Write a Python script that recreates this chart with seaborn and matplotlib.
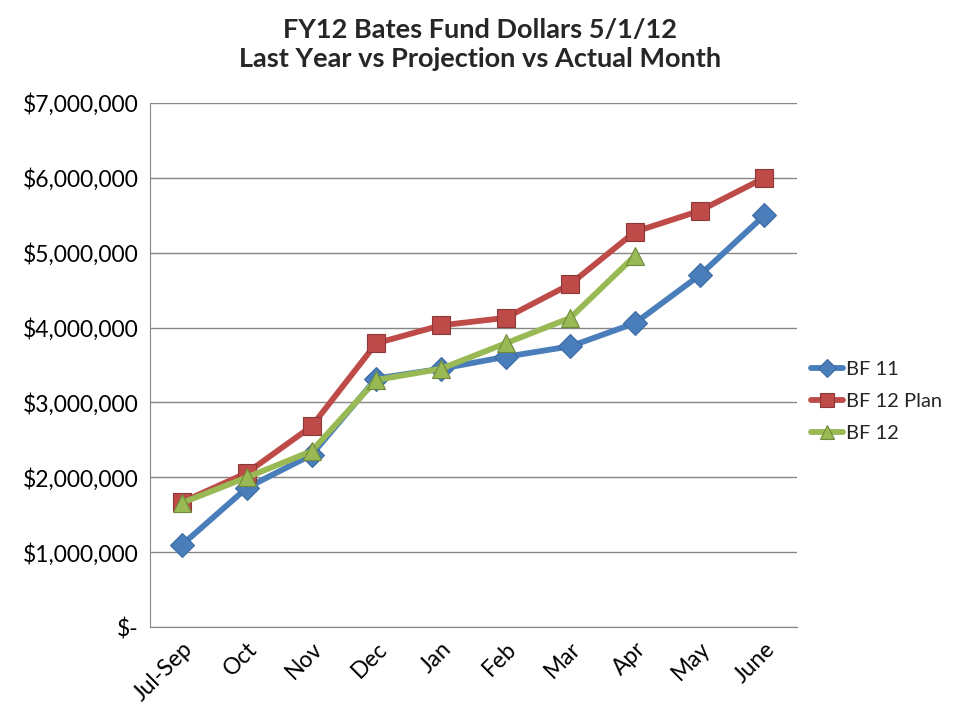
import pandas as pd
import numpy as np
import matplotlib.pyplot as plt
import seaborn as sns
from matplotlib.ticker import FuncFormatter

sns.set_style("white")
plt.rcParams['font.family'] = ['Lato', 'DejaVu Sans']

# data
months = ['Jul-Sep', 'Oct', 'Nov', 'Dec', 'Jan', 'Feb', 'Mar', 'Apr', 'May', 'June']
bf11 = [1100000, 1860000, 2300000, 3320000, 3450000, 3610000, 3750000, 4060000, 4700000, 5500000]
bf12_plan = [1670000, 2060000, 2680000, 3790000, 4030000, 4130000, 4580000, 5280000, 5560000, 6000000]
bf12 = [1660000, 2000000, 2350000, 3300000, 3450000, 3790000, 4130000, 4960000, np.nan, np.nan]

series = [
    ('BF 11', bf11, '#4A7EBB', 'D', '#3A6AA5'),
    ('BF 12 Plan', bf12_plan, '#BE4B48', 's', '#8C3836'),
    ('BF 12', bf12, '#98B954', '^', '#6F8A3A'),
]

fig = plt.figure(figsize=(9.6, 7.2), dpi=100)
ax = fig.add_axes([0.156, 0.129, 0.674, 0.728])

for name, vals, col, mk, edge in series:
    df = pd.DataFrame({'x': np.arange(len(months)), 'y': vals}).dropna()
    sns.lineplot(data=df, x='x', y='y', ax=ax, color=col, linewidth=4.2,
                 marker=mk, markersize=13 if mk != 'D' else 12,
                 markeredgecolor=edge, markeredgewidth=0.8, label=name)

ax.set_xlim(-0.5, 9.5)
ax.set_ylim(0, 7000000)
ax.set_yticks(np.arange(0, 7000001, 1000000))
ax.yaxis.set_major_formatter(FuncFormatter(lambda v, p: '$-' if v == 0 else f'${v:,.0f}'))
ax.set_xticks(np.arange(len(months)))
ax.set_xticklabels(months, rotation=45, ha='right', rotation_mode='anchor')
ax.tick_params(axis='both', labelsize=16.5, length=0, labelcolor='black')
ax.tick_params(axis='y', pad=8)
ax.tick_params(axis='x', pad=8)
ax.grid(axis='y', color='#868686', linewidth=1)
ax.set_axisbelow(True)
for s in ['top', 'right']:
    ax.spines[s].set_visible(False)
ax.spines['left'].set_color('#868686')
ax.spines['bottom'].set_color('#868686')
ax.set_xlabel('')
ax.set_ylabel('')

ax.legend(loc='center left', bbox_to_anchor=(1.0, 0.43), frameon=False,
          fontsize=14.5, handlelength=1.6, handletextpad=0.15, labelspacing=0.75,
          markerscale=0.8, borderaxespad=0.3)

fig.suptitle('FY12 Bates Fund Dollars 5/1/12\nLast Year vs Projection vs Actual Month',
             fontsize=19.5, fontweight='bold', y=0.975, linespacing=1.25)

fig.savefig('out.png', dpi=100)
